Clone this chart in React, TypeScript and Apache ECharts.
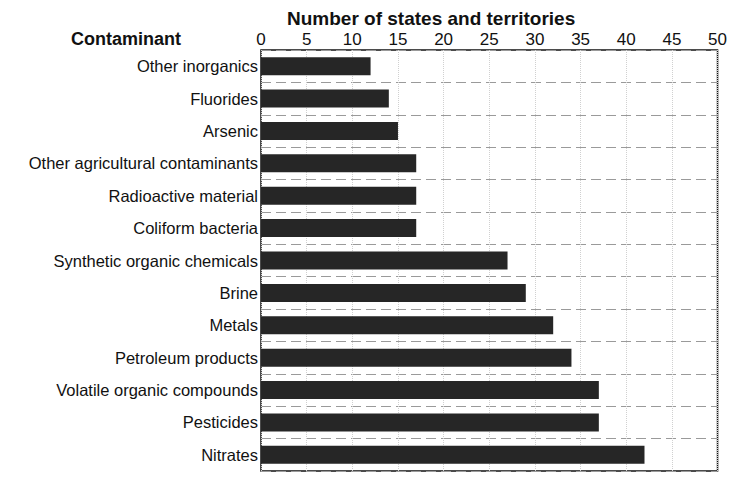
import React, { useEffect, useRef } from "react";
import * as echarts from "echarts";

const categories = [
  "Other inorganics",
  "Fluorides",
  "Arsenic",
  "Other agricultural contaminants",
  "Radioactive material",
  "Coliform bacteria",
  "Synthetic organic chemicals",
  "Brine",
  "Metals",
  "Petroleum products",
  "Volatile organic compounds",
  "Pesticides",
  "Nitrates",
];
const values = [12, 14, 15, 17, 17, 17, 27, 29, 32, 34, 37, 37, 42];
const axisTitle = "Number of states and territories";
const categoryTitle = "Contaminant";

export default function App() {
  const ref = useRef<HTMLDivElement>(null);
  useEffect(() => {
    if (!ref.current) return;
    const chart = echarts.init(ref.current, undefined, { renderer: "svg" });
    const font = "'Liberation Sans', Arial, Helvetica, sans-serif";
    chart.setOption({
      animation: false,
      backgroundColor: "#ffffff",
      textStyle: { fontFamily: font },
      grid: {
        left: 261,
        right: 10,
        top: 50,
        bottom: 12,
        show: true,
        borderColor: "#111",
        borderWidth: 1.5,
        containLabel: false,
      },
      xAxis: {
        type: "value",
        position: "top",
        min: 0,
        max: 50,
        interval: 5,
        axisLine: { show: false },
        axisTick: { show: false },
        axisLabel: {
          margin: 2,
          fontSize: 17,
          color: "#111",
          fontFamily: font,
        },
        splitLine: {
          show: true,
          lineStyle: { color: "#d0d0d0", type: "dotted", width: 1 },
        },
      },
      yAxis: {
        type: "category",
        data: categories,
        inverse: true,
        axisLine: { show: false },
        axisTick: { show: false },
        axisLabel: {
          margin: 3,
          fontSize: 16.5,
          color: "#111",
          fontFamily: font,
        },
        splitLine: {
          show: true,
          lineStyle: { color: "#9a9a9a", type: [10, 5], width: 1 },
        },
      },
      graphic: [
        {
          type: "text",
          left: 287,
          top: 9,
          style: {
            text: axisTitle,
            font: `bold 19px ${font}`,
            fill: "#111",
          },
        },
        {
          type: "text",
          left: 71,
          top: 30,
          style: {
            text: categoryTitle,
            font: `bold 18px ${font}`,
            fill: "#111",
          },
        },
      ],
      series: [
        {
          type: "bar",
          data: values,
          barWidth: 18,
          itemStyle: { color: "#262626" },
        },
      ],
    });
    return () => chart.dispose();
  }, []);
  return (
    <div
      ref={ref}
      style={{ position: "fixed", left: 0, top: 0, width: 730, height: 483 }}
    />
  );
}
